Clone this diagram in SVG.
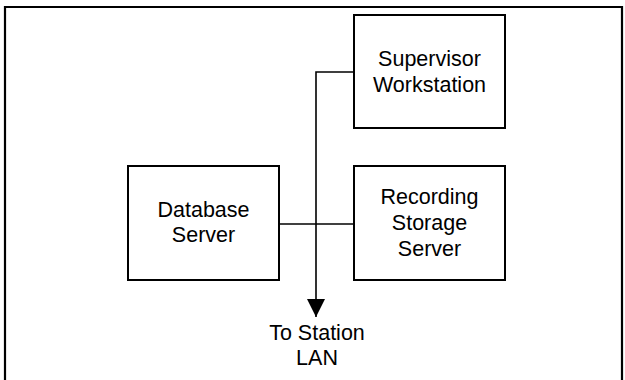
<svg xmlns="http://www.w3.org/2000/svg" width="625" height="380" viewBox="0 0 625 380">
<defs>
<style>
.box{fill:#fff;stroke:#000;stroke-width:2}
.lbl{font-family:"Liberation Sans",Arial,sans-serif;font-size:21.5px;fill:#000;text-anchor:middle}
.con{fill:none;stroke:#000;stroke-width:1.6}
</style>
<marker id="arr" markerUnits="userSpaceOnUse" markerWidth="18" markerHeight="18" refX="17" refY="8.5" orient="auto" viewBox="0 0 17 17">
<path d="M0,0 L17,8.5 L0,17 Z" fill="#000"/>
</marker>
</defs>
<rect width="625" height="380" fill="#fff"/>
<path d="M5,380 V7 H622 V380" fill="none" stroke="#000" stroke-width="2.2"/>
<g id="connectors">
<path class="con" d="M354,72 H316 V317" marker-end="url(#arr)"/>
<path class="con" d="M279,224 H354"/>
</g>
<g id="supervisor">
<rect class="box" x="354" y="15" width="151" height="113"/>
<text class="lbl" x="429.5" y="66">Supervisor</text>
<text class="lbl" x="429.5" y="91.5">Workstation</text>
</g>
<g id="database">
<rect class="box" x="128" y="166" width="151" height="114"/>
<text class="lbl" x="203.5" y="217">Database</text>
<text class="lbl" x="203.5" y="242">Server</text>
</g>
<g id="recording">
<rect class="box" x="354" y="166" width="151" height="114"/>
<text class="lbl" x="429.5" y="204">Recording</text>
<text class="lbl" x="429.5" y="230">Storage</text>
<text class="lbl" x="429.5" y="255.5">Server</text>
</g>
<g id="lan">
<text class="lbl" x="317" y="340">To Station</text>
<text class="lbl" x="317" y="365">LAN</text>
</g>
</svg>
